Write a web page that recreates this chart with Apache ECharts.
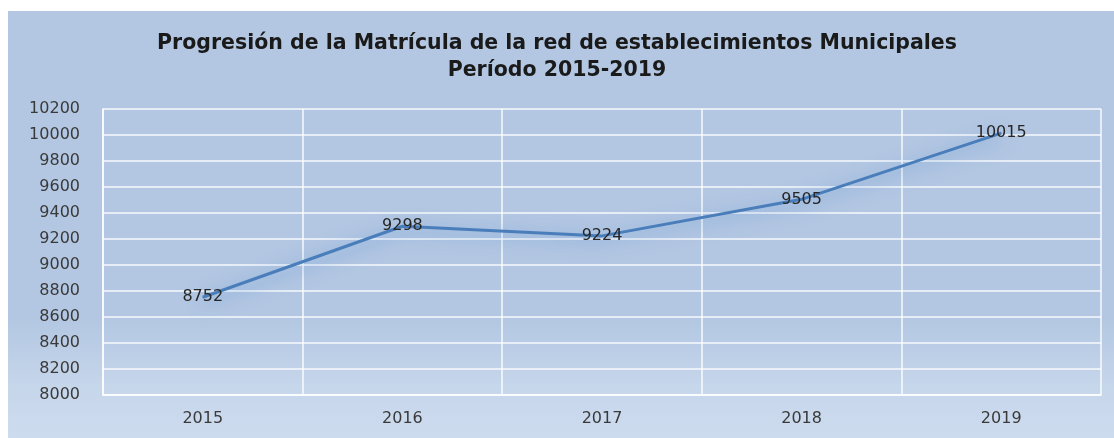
<!DOCTYPE html>
<html>
<head>
<meta charset="utf-8">
<script src="https://cdn.jsdelivr.net/npm/echarts@6/dist/echarts.min.js"></script>
<style>
  html, body { margin: 0; padding: 0; background: #fff; }
  #chart { width: 1114px; height: 438px; }
</style>
</head>
<body>
<div id="chart"></div>
<script>
// datos
const years = ['2015', '2016', '2017', '2018', '2019'];
const matricula = [8752, 9298, 9224, 9505, 10015];
const titleLines = [
  'Progresión de la Matrícula de la red de establecimientos Municipales',
  'Período 2015-2019'
];

const myChart = echarts.init(document.getElementById('chart'));

const option = {
  backgroundColor: '#fff',
  animation: false,
  graphic: [
    {
      type: 'rect',
      z: -10,
      silent: true,
      shape: { x: 8, y: 11, width: 1106, height: 427 },
      style: {
        fill: new echarts.graphic.LinearGradient(0, 0, 0, 1, [
          { offset: 0, color: '#b3c7e2' },
          { offset: 0.72, color: '#b3c7e2' },
          { offset: 0.88, color: '#c6d6eb' },
          { offset: 1, color: '#cddbee' }
        ])
      }
    }
  ],
  title: {
    text: titleLines.join('\n'),
    left: 'center',
    top: 25,
    textStyle: {
      fontFamily: 'DejaVu Sans',
      fontWeight: 'bold',
      fontSize: 20.5,
      lineHeight: 27,
      color: '#1a1a1a'
    }
  },
  grid: {
    left: 103,
    right: 13,
    top: 109,
    bottom: 43,
    containLabel: false
  },
  xAxis: {
    type: 'category',
    data: years,
    boundaryGap: true,
    axisLine: { show: true, lineStyle: { color: 'rgba(255,255,255,0.9)', width: 1.5 } },
    axisTick: { show: false },
    axisLabel: {
      margin: 16,
      fontFamily: 'DejaVu Sans',
      fontSize: 16,
      color: '#3a3a3a'
    },
    splitLine: {
      show: true,
      lineStyle: { color: 'rgba(255,255,255,0.9)', width: 1.5 }
    }
  },
  yAxis: {
    type: 'value',
    min: 8000,
    max: 10200,
    interval: 200,
    axisLine: { show: true, lineStyle: { color: 'rgba(255,255,255,0.9)', width: 1.5 } },
    axisTick: { show: false },
    axisLabel: {
      margin: 23,
      fontFamily: 'DejaVu Sans',
      fontSize: 16,
      color: '#3a3a3a',
      formatter: (v) => String(v)
    },
    splitLine: {
      lineStyle: { color: 'rgba(255,255,255,0.9)', width: 1.5 }
    }
  },
  series: [
    {
      type: 'line',
      data: matricula,
      symbol: 'circle',
      symbolSize: 1,
      itemStyle: { color: '#4a7ebb' },
      lineStyle: {
        color: '#4a7ebb',
        width: 3,
        shadowColor: 'rgba(70,130,210,0.75)',
        shadowBlur: 18,
        shadowOffsetY: 4
      },
      label: {
        show: true,
        position: 'inside',
        fontFamily: 'DejaVu Sans',
        fontSize: 16,
        color: '#262626'
      }
    }
  ]
};

myChart.setOption(option);
window.addEventListener('resize', () => myChart.resize());
</script>
</body>
</html>
